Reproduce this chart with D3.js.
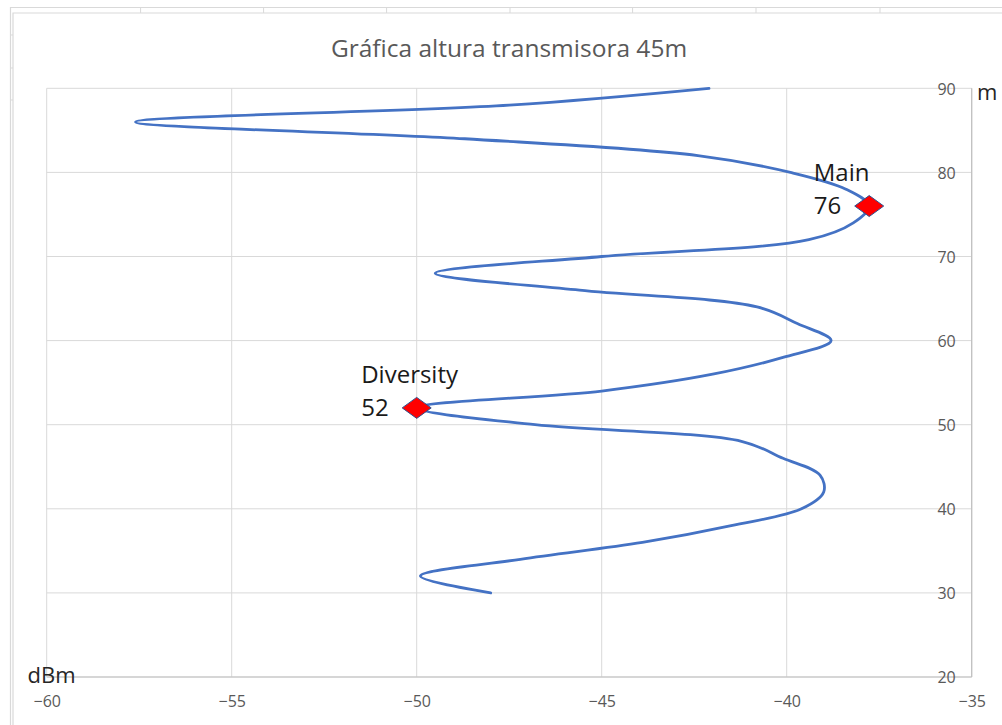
<!DOCTYPE html>
<html>
<head>
<meta charset="utf-8">
<script src="https://cdn.jsdelivr.net/npm/d3@7"></script>
<style>
  html, body { margin: 0; padding: 0; background: #ffffff; }
  svg { display: block; }
</style>
</head>
<body>
<svg id="chart" width="1002" height="725"></svg>
<script>
// ---------- data ----------
const chartTitle = "Gráfica altura transmisora 45m";
const heights = [30, 32, 34, 36, 38, 40, 42, 44, 46, 48, 50, 52, 54, 56, 58, 60,
                 62, 64, 66, 68, 70, 72, 74, 76, 78, 80, 82, 84, 86, 88, 90];
const power = [-48.0, -49.9, -47.2, -43.9, -41.5, -39.6, -39.0, -39.1, -40.1, -41.2,
               -46.8, -50.0, -45.0, -42.0, -40.1, -38.8, -39.7, -40.8, -45.6, -49.5,
               -45.0, -39.4, -38.2, -37.77, -38.4, -39.9, -42.4, -48.7, -57.6, -47.5, -42.1];
const markerNames = ["Main", "Diversity"];
const markerHeights = [76, 52];
const markerPower = [-37.77, -50.0];
const xTicks = [-60, -55, -50, -45, -40, -35];
const yTicks = [20, 30, 40, 50, 60, 70, 80, 90];
const xUnit = "dBm";
const yUnit = "m";

// ---------- layout ----------
const svg = d3.select("#chart");
const L = 46.7, R = 971.7, T = 88.3, B = 677;
const x = d3.scaleLinear().domain([-60, -35]).range([L, R]);
const y = d3.scaleLinear().domain([20, 90]).range([B, T]);
const FONT = "'Open Sans', 'Noto Sans', sans-serif";

svg.append("rect").attr("width", 1002).attr("height", 725).attr("fill", "#ffffff");

// outer frame (sheet / chart area borders)
const frame = svg.append("g").attr("fill", "none").attr("stroke", "#d9d9d9");
frame.append("path").attr("d", "M10.5,725 V7.5 H1002").attr("stroke-width", 1.2);
frame.append("path").attr("d", "M13,725 V13 H1002").attr("stroke-width", 1.2);
[140.6, 263.6, 386.6, 510, 632.6, 756, 880].forEach(px => {
  frame.append("line").attr("x1", px).attr("x2", px).attr("y1", 7.5).attr("y2", 13).attr("stroke-width", 1);
});
[35, 68, 100].forEach(py => {
  frame.append("line").attr("y1", py).attr("y2", py).attr("x1", 10.5).attr("x2", 13).attr("stroke-width", 1);
});

// title
svg.append("text")
  .attr("x", 509).attr("y", 57)
  .attr("text-anchor", "middle")
  .attr("font-family", FONT).attr("font-size", 24.5)
  .attr("fill", "#595959")
  .text(chartTitle);

// gridlines
const grid = svg.append("g").attr("stroke", "#d9d9d9").attr("stroke-width", 1);
xTicks.forEach(v => grid.append("line")
  .attr("x1", x(v)).attr("x2", x(v)).attr("y1", T).attr("y2", B));
yTicks.forEach(v => grid.append("line")
  .attr("x1", L).attr("x2", R).attr("y1", y(v)).attr("y2", y(v)));

// axes lines
svg.append("line").attr("x1", L).attr("x2", R).attr("y1", B).attr("y2", B)
  .attr("stroke", "#bfbfbf").attr("stroke-width", 1.2);
svg.append("line").attr("x1", R).attr("x2", R).attr("y1", T).attr("y2", B)
  .attr("stroke", "#bfbfbf").attr("stroke-width", 1.2);

// x tick labels (bottom)
const xAxis = d3.axisBottom(x).tickValues(xTicks).tickSize(0).tickPadding(0)
  .tickFormat(d3.format("d"));
const gx = svg.append("g").attr("transform", `translate(0,${B})`).call(xAxis);
gx.select(".domain").remove();
gx.selectAll("text")
  .attr("y", 29.5).attr("dy", null)
  .attr("font-family", FONT).attr("font-size", 16).attr("fill", "#595959");

// y tick labels (over gridlines, left of right axis)
const yAxis = d3.axisLeft(y).tickValues(yTicks).tickSize(0).tickPadding(0)
  .tickFormat(d3.format("d"));
const gy = svg.append("g").attr("transform", `translate(${R - 16},0)`).call(yAxis);
gy.select(".domain").remove();
gy.selectAll("text")
  .attr("x", 0).attr("dy", "0.36em")
  .attr("font-family", FONT).attr("font-size", 16).attr("fill", "#595959");

// unit labels
svg.append("text").attr("x", 27.5).attr("y", 683)
  .attr("font-family", FONT).attr("font-size", 22).attr("fill", "#262626")
  .text(xUnit);
svg.append("text").attr("x", 977).attr("y", 100)
  .attr("font-family", FONT).attr("font-size", 22).attr("fill", "#262626")
  .text(yUnit);

// curve
const pts = heights.map((h, i) => [power[i], h]);
const line = d3.line()
  .x(d => x(d[0])).y(d => y(d[1]))
  .curve(d3.curveCatmullRom.alpha(0.5));
svg.append("path")
  .attr("d", line(pts))
  .attr("fill", "none")
  .attr("stroke", "#4472c4")
  .attr("stroke-width", 2.8)
  .attr("stroke-linejoin", "round")
  .attr("stroke-linecap", "round");

// markers + labels
const mk = svg.append("g");
markerNames.forEach((name, i) => {
  const cx = x(markerPower[i]), cy = y(markerHeights[i]);
  const hw = 14.5, hh = 10.5;
  mk.append("path")
    .attr("d", `M${cx - hw},${cy} L${cx},${cy - hh} L${cx + hw},${cy} L${cx},${cy + hh} Z`)
    .attr("fill", "#ff0000").attr("stroke", "#2f528f").attr("stroke-width", 1);
  const lx = cx - 55.5;
  mk.append("text").attr("x", lx).attr("y", cy - 25)
    .attr("font-family", FONT).attr("font-size", 24).attr("fill", "#1a1a1a")
    .text(name);
  mk.append("text").attr("x", lx).attr("y", cy + 8)
    .attr("font-family", FONT).attr("font-size", 24).attr("fill", "#1a1a1a")
    .text(String(markerHeights[i]));
});
</script>
</body>
</html>
